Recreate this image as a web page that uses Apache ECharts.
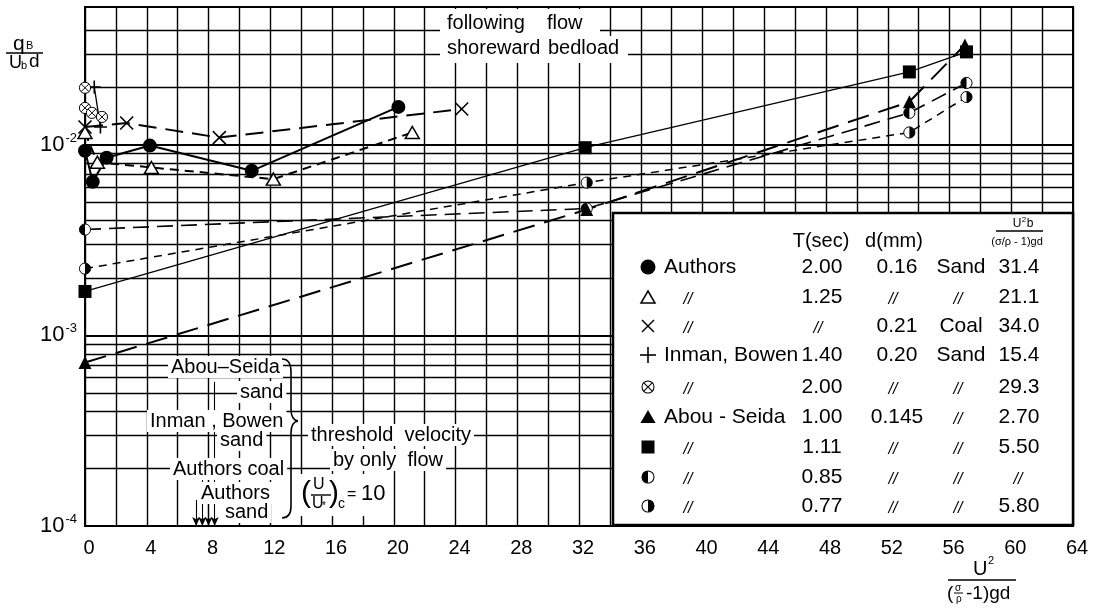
<!DOCTYPE html>
<html>
<head>
<meta charset="utf-8">
<script src="https://cdn.jsdelivr.net/npm/echarts@6/dist/echarts.min.js"></script>
<style>
  html, body { margin: 0; padding: 0; background: #fff; }
  #chart { width: 1095px; height: 609px; }
</style>
</head>
<body>
<div id="chart"></div>
<script>
// Bedload transport rate q_B/(u_b d) against U^2/((sigma/rho - 1) g d)

// Authors, sand, T = 2.00 s
const authorsSandX = [0, 0.5, 1.4, 4.2, 10.8, 20.3];
const authorsSandY = [0.0093, 0.0064, 0.00855, 0.0099, 0.0073, 0.0158];
// Authors, sand, T = 1.25 s
const authorsTriX = [0, 0.8, 4.3, 12.2, 21.2];
const authorsTriY = [0.0116, 0.0081, 0.0076, 0.0066, 0.0116];
// Authors, coal
const authorsCoalX = [0, 2.7, 8.7, 24.4];
const authorsCoalY = [0.0124, 0.0130, 0.0109, 0.0154];
// Inman, Bowen, T = 1.40 s
const inmanPlusX = [0.6, 1.0];
const inmanPlusY = [0.0201, 0.0124];
// Inman, Bowen, T = 2.00 s
const inmanOtimesX = [0, 0, 0.45, 1.1];
const inmanOtimesY = [0.0199, 0.0156, 0.0147, 0.0140];
// Abou-Seida, T = 1.00 s
const abouTriX = [0, 32.5, 53.4, 57.0];
const abouTriY = [0.00072, 0.00457, 0.0168, 0.0334];
// Abou-Seida, T = 1.11 s
const abouSquareX = [0, 32.4, 53.4, 57.1];
const abouSquareY = [0.0017, 0.00965, 0.0241, 0.0307];
// Abou-Seida, T = 0.85 s
const abouHalfLeftX = [0, 32.5, 53.4, 57.1];
const abouHalfLeftY = [0.00359, 0.00463, 0.0147, 0.0211];
// Abou-Seida, T = 0.77 s
const abouHalfRightX = [0, 32.5, 53.4, 57.1];
const abouHalfRightY = [0.00224, 0.00633, 0.0116, 0.0178];

// Threshold velocities by flow only, (U/U*)c = 10
const thresholdX = [8.4, 8.0, 7.6, 7.2];
const thresholdTopY = [0.00057, 0.00032, 0.000175, 0.000137];

// Axis ticks
const xMin = 0, xMax = 64, xTickStep = 4;
const yDecades = [0.0001, 0.001, 0.01];
const yMax = 0.0528;
const yMinorLines = [
  0.0002, 0.0003, 0.0004, 0.0005, 0.0006, 0.0007, 0.0008, 0.0009,
  0.002, 0.003, 0.004, 0.005, 0.006, 0.007, 0.008, 0.009,
  0.02, 0.03, 0.04
];

// Legend table
const legendSymbols  = ['dot', 'openTri', 'cross', 'plus', 'otimes', 'tri', 'square', 'halfLeft', 'halfRight'];
const legendNames    = ['Authors', '//', '//', 'Inman, Bowen', '//', 'Abou - Seida', '//', '//', '//'];
const legendPeriod   = ['2.00', '1.25', '//', '1.40', '2.00', '1.00', '1.11', '0.85', '0.77'];
const legendDiameter = ['0.16', '//', '0.21', '0.20', '//', '0.145', '//', '//', '//'];
const legendMaterial = ['Sand', '//', 'Coal', 'Sand', '//', '//', '//', '//', '//'];
const legendU2b      = ['31.4', '21.1', '34.0', '15.4', '29.3', '2.70', '5.50', '//', '5.80'];

const FONT = "'Liberation Sans', Arial, sans-serif";

function svgUrl(svg) {
  return 'image://data:image/svg+xml;charset=utf-8,' + encodeURIComponent(svg);
}
function svgSrc(svg) {
  return 'data:image/svg+xml;charset=utf-8,' + encodeURIComponent(svg);
}
const SVG_OTIMES = "<svg xmlns='http://www.w3.org/2000/svg' width='40' height='40' viewBox='0 0 20 20'>" +
  "<circle cx='10' cy='10' r='8.6' fill='white' stroke='black' stroke-width='1.5'/>" +
  "<path d='M4 4L16 16M16 4L4 16' stroke='black' stroke-width='1.5'/></svg>";
const SVG_HALF_LEFT = "<svg xmlns='http://www.w3.org/2000/svg' width='40' height='40' viewBox='0 0 20 20'>" +
  "<circle cx='10' cy='10' r='8.6' fill='white' stroke='black' stroke-width='1.5'/>" +
  "<path d='M10 1.4A8.6 8.6 0 0 0 10 18.6Z' fill='black'/></svg>";
const SVG_HALF_RIGHT = "<svg xmlns='http://www.w3.org/2000/svg' width='40' height='40' viewBox='0 0 20 20'>" +
  "<circle cx='10' cy='10' r='8.6' fill='white' stroke='black' stroke-width='1.5'/>" +
  "<path d='M10 1.4A8.6 8.6 0 0 1 10 18.6Z' fill='black'/></svg>";
const CROSS_PATH = 'path://M0,0L10,10M10,0L0,10';
const PLUS_PATH = 'path://M5,0L5,10M0,5L10,5';

function pairs(xs, ys) { return xs.map((x, i) => [x, ys[i]]); }

function markerSeries(name, xs, ys, symbol, size, item, line) {
  return {
    name, type: 'line', data: pairs(xs, ys),
    symbol, symbolSize: size, showAllSymbol: true,
    itemStyle: Object.assign({ color: '#000', borderColor: '#000', borderWidth: 0 }, item),
    lineStyle: Object.assign({ color: '#000', width: 2 }, line),
    emphasis: { disabled: true }, silent: true, animation: false, z: 5
  };
}

const series = [
  // log-paper ruling for the intermediate values of each decade
  {
    type: 'line', data: [], silent: true, animation: false, z: 1,
    markLine: {
      silent: true, symbol: ['none', 'none'], animation: false,
      label: { show: false },
      lineStyle: { color: '#000', width: 1.4, type: 'solid' },
      emphasis: { disabled: true },
      data: yMinorLines.map(v => [{ coord: [xMin, v] }, { coord: [xMax, v] }])
    }
  },
  // threshold arrows
  {
    type: 'line', data: [], silent: true, animation: false, z: 2,
    markLine: {
      silent: true, symbol: ['none', 'arrow'], symbolSize: [6, 9], animation: false,
      label: { show: false },
      lineStyle: { color: '#000', width: 1.1, type: 'solid' },
      emphasis: { disabled: true },
      data: thresholdX.map((x, i) => [{ coord: [x, thresholdTopY[i]] }, { coord: [x, yDecades[0]] }])
    }
  },
  markerSeries('Authors coal', authorsCoalX, authorsCoalY, CROSS_PATH, 13,
    { color: 'none', borderWidth: 1.6 }, { type: [18, 9], width: 2 }),
  markerSeries('Authors T1.25', authorsTriX, authorsTriY, 'triangle', [14, 12],
    { color: '#fff', borderWidth: 1.5 }, { type: [9, 6], width: 2 }),
  markerSeries('Authors T2.00', authorsSandX, authorsSandY, 'circle', 14,
    {}, { type: 'solid', width: 2 }),
  markerSeries('Inman Bowen T1.40', inmanPlusX, inmanPlusY, PLUS_PATH, 13,
    { color: 'none', borderWidth: 1.6 }, { type: 'solid', width: 1.3 }),
  Object.assign(markerSeries('Inman Bowen T2.00', inmanOtimesX, inmanOtimesY, svgUrl(SVG_OTIMES), 13,
    {}, {}), { lineStyle: { width: 0, opacity: 0 } }),
  markerSeries('Abou-Seida T0.85', abouHalfLeftX, abouHalfLeftY, svgUrl(SVG_HALF_LEFT), 13,
    {}, { type: [16, 8], width: 1.6 }),
  markerSeries('Abou-Seida T0.77', abouHalfRightX, abouHalfRightY, svgUrl(SVG_HALF_RIGHT), 13,
    {}, { type: [8, 6], width: 1.5 }),
  markerSeries('Abou-Seida T1.00', abouTriX, abouTriY, 'triangle', 13,
    {}, { type: [22, 10], width: 2 }),
  markerSeries('Abou-Seida T1.11', abouSquareX, abouSquareY, 'rect', 13,
    {}, { type: 'solid', width: 1.2 })
];

// ---------- annotation graphics ----------
const graphics = [];
function text(x, y, s, size, opts) {
  opts = opts || {};
  const style = {
    text: s, fill: '#000', fontSize: size, fontFamily: FONT,
    align: opts.align || 'left', verticalAlign: 'middle',
    textAlign: opts.align || 'left', textVerticalAlign: 'middle'
  };
  if (opts.bg) { style.backgroundColor = '#fff'; style.padding = opts.pad || [1, 3]; }
  if (opts.italic) style.fontStyle = 'italic';
  graphics.push({ type: 'text', x, y, z: opts.z || 110, silent: true, style });
}
function line(x1, y1, x2, y2, w, z) {
  graphics.push({ type: 'line', z: z || 111, silent: true,
    shape: { x1, y1, x2, y2 }, style: { stroke: '#000', lineWidth: w || 1.5 } });
}
function rect(x, y, w, h, stroke, lw, z) {
  graphics.push({ type: 'rect', z: z || 100, silent: true,
    shape: { x, y, width: w, height: h },
    style: { fill: '#fff', stroke: stroke || null, lineWidth: lw || 0 } });
}
function curve(x1, y1, cx, cy, x2, y2) {
  graphics.push({ type: 'bezierCurve', z: 111, silent: true,
    shape: { x1, y1, cpx1: cx, cpy1: cy, x2, y2 },
    style: { stroke: '#000', lineWidth: 1.6, fill: 'none' } });
}
function symbol(kind, cx, cy) {
  const z = 112;
  const st = { stroke: '#000', lineWidth: 1.5, fill: 'none' };
  if (kind === 'dot') graphics.push({ type: 'circle', z, shape: { cx, cy, r: 7.5 }, style: { fill: '#000' } });
  else if (kind === 'openTri') graphics.push({ type: 'polygon', z, shape: { points: [[cx, cy - 6], [cx + 7, cy + 6], [cx - 7, cy + 6]] }, style: st });
  else if (kind === 'tri') graphics.push({ type: 'polygon', z, shape: { points: [[cx, cy - 7], [cx + 7.5, cy + 6], [cx - 7.5, cy + 6]] }, style: { fill: '#000' } });
  else if (kind === 'square') graphics.push({ type: 'rect', z, shape: { x: cx - 6.5, y: cy - 6.5, width: 13, height: 13 }, style: { fill: '#000' } });
  else if (kind === 'cross') { line(cx - 6, cy - 6, cx + 6, cy + 6, 1.5, z); line(cx - 6, cy + 6, cx + 6, cy - 6, 1.5, z); }
  else if (kind === 'plus') { line(cx - 8, cy, cx + 8, cy, 1.6, z); line(cx, cy - 8, cx, cy + 8, 1.6, z); }
  else {
    const src = kind === 'otimes' ? SVG_OTIMES : kind === 'halfLeft' ? SVG_HALF_LEFT : SVG_HALF_RIGHT;
    graphics.push({ type: 'image', z, x: cx - 7, y: cy - 7, style: { image: svgSrc(src), width: 14, height: 14 } });
  }
}

// y-axis title q_B / (u_b d)
text(13, 44, 'q', 21);
text(26, 46, 'B', 11);
line(6, 53, 43, 53, 1.6);
text(9, 63, 'U', 18);
text(21, 66, 'b', 11);
text(29, 62, 'd', 19);

// x-axis title U^2 / ((sigma/rho - 1) g d)
text(973, 569, 'U', 20);
text(988, 561, '2', 11);
line(948, 580, 1016, 580, 1.6);
text(947, 594, '(', 19);
text(955, 588, 'σ', 10);
line(954, 593, 963, 593, 1);
text(956, 599, 'ρ', 10);
text(966, 594, '-1)gd', 19);

// top annotation
rect(440, 9, 160, 29);
rect(440, 36, 188, 27);
text(447, 23, 'following', 20);
text(547, 23, 'flow', 20);
text(447, 48, 'shoreward', 20);
text(548, 48, 'bedload', 20);

// threshold annotation block
text(168, 367, 'Abou–Seida', 20, { bg: true });
text(237, 392, 'sand', 20, { bg: true });
text(147, 421, 'Inman , Bowen', 20, { bg: true });
text(217, 440, 'sand', 20, { bg: true });
text(170, 469, 'Authors coal', 20, { bg: true });
text(198, 493, 'Authors', 20, { bg: true });
text(222, 512, 'sand', 20, { bg: true });
curve(282, 359, 291, 359, 291, 372);
line(291, 372, 291, 409, 1.6);
curve(291, 409, 291, 420, 298, 421);
curve(298, 421, 291, 422, 291, 433);
line(291, 433, 291, 506, 1.6);
curve(291, 506, 291, 518, 282, 518);
text(308, 435, 'threshold  velocity', 20, { bg: true });
text(330, 460, 'by only  flow', 20, { bg: true });
rect(300, 474, 88, 42);
text(301, 494, '(', 30);
text(313, 485, 'U', 16);
line(311, 495, 331, 495, 1.4);
text(312, 504, 'U', 16);
text(322, 506, '*', 10);
text(329, 494, ')', 30);
text(338, 504, 'c', 14);
text(347, 495, '=', 16);
text(361, 494, '10', 22);

// legend table
rect(613, 213, 460, 312, '#000', 2.5, 105);
const rowY = [267, 297, 326, 355, 387, 417, 447, 477, 506];
text(821, 241, 'T(sec)', 20, { align: 'center' });
text(894, 241, 'd(mm)', 20, { align: 'center' });
text(1017, 224, 'U', 12, { align: 'center' });
text(1024, 220, '2', 8, { align: 'center' });
text(1030, 224, 'b', 12, { align: 'center' });
line(996, 231, 1043, 231, 1.3);
text(1017, 242, '(σ/ρ - 1)gd', 11, { align: 'center' });
legendSymbols.forEach((k, i) => {
  const y = rowY[i];
  symbol(k, 648, y);
  const cells = [
    [legendNames[i], 664, 688],
    [legendPeriod[i], 822, 818],
    [legendDiameter[i], 897, 893],
    [legendMaterial[i], 961, 958],
    [legendU2b[i], 1019, 1018]
  ];
  cells.forEach(([s, x, dx], c) => {
    if (s === '//') text(dx, y + 3, '//', 16, { align: 'center', italic: true });
    else text(x, y, s, 21, { align: c === 0 ? 'left' : 'center' });
  });
});

const option = {
  animation: false,
  backgroundColor: '#fff',
  grid: { left: 85, right: 22, top: 7, bottom: 83, show: true, borderColor: '#000', borderWidth: 2, backgroundColor: 'transparent' },
  xAxis: {
    type: 'value', min: xMin, max: xMax, interval: xTickStep,
    axisLine: { show: true, onZero: false, lineStyle: { color: '#000', width: 2 } },
    axisTick: { show: false },
    axisLabel: { color: '#000', fontSize: 20, fontFamily: FONT, margin: 12, padding: [0, 0, 0, 8] },
    splitLine: { show: true, lineStyle: { color: '#000', width: 1.4 } },
    minorTick: { show: false, splitNumber: 2 },
    minorSplitLine: { show: true, lineStyle: { color: '#000', width: 1.4 } }
  },
  yAxis: {
    type: 'log', logBase: 10, min: yDecades[0], max: yMax,
    axisLine: { show: true, onZero: false, lineStyle: { color: '#000', width: 2 } },
    axisTick: { show: false },
    splitLine: { show: true, lineStyle: { color: '#000', width: 1.8 } },
    axisLabel: {
      color: '#000', margin: 8, showMaxLabel: false,
      formatter: v => {
        const e = Math.log10(v);
        if (Math.abs(e - Math.round(e)) > 1e-6) return '';
        return '{b|10}{s|' + Math.round(e) + '}';
      },
      rich: {
        b: { fontSize: 22, fontFamily: FONT, color: '#000', lineHeight: 26 },
        s: { fontSize: 13, fontFamily: FONT, color: '#000', verticalAlign: 'top', lineHeight: 26, padding: [0, 0, 12, 1] }
      }
    }
  },
  series,
  graphic: { elements: graphics }
};

const chart = echarts.init(document.getElementById('chart'), null, { renderer: 'canvas' });
chart.setOption(option);
</script>
</body>
</html>
